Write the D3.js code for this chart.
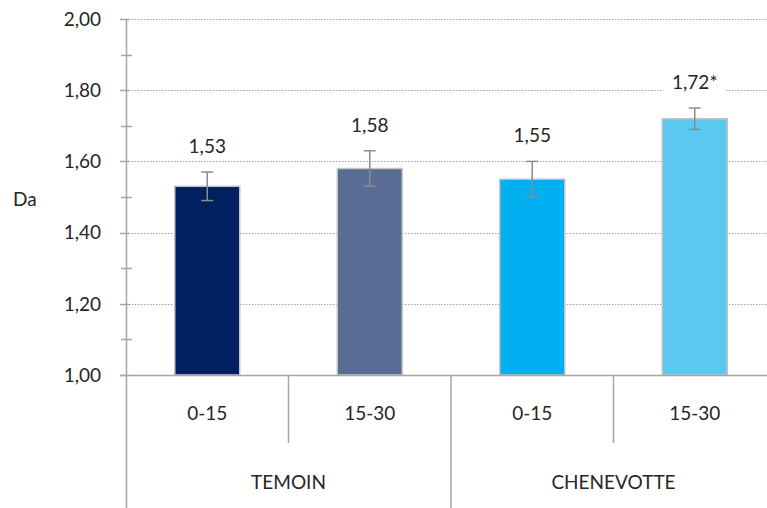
<!DOCTYPE html>
<html>
<head>
<meta charset="utf-8">
<script src="https://cdn.jsdelivr.net/npm/d3@7"></script>
<style>
  html, body { margin: 0; padding: 0; background: #fff; }
  svg text { font-family: Lato, "Open Sans", "Liberation Sans", sans-serif; fill: #262626; }
</style>
</head>
<body>
<svg id="chart" width="767" height="508"></svg>
<script>
// Soil bulk density (Da) by treatment and depth
const groups = ["TEMOIN", "CHENEVOTTE"];
const depths = ["0-15", "15-30", "0-15", "15-30"];
const groupOf = [0, 0, 1, 1];
const values = [1.53, 1.58, 1.55, 1.72];
const errors = [0.04, 0.05, 0.05, 0.03];
const valueLabels = ["1,53", "1,58", "1,55", "1,72*"];
const barColors = ["#002060", "#596c94", "#00b0f0", "#5bc8f2"];
const yTicks = [1.0, 1.2, 1.4, 1.6, 1.8, 2.0];
const yMinorTicks = [1.1, 1.3, 1.5, 1.7, 1.9];

const svg = d3.select("#chart");
const axisColor = "#a6a6a6";
const fontSize = 19;

const plotLeft = 126, plotRight = 776, plotTop = 19, plotBase = 375, plotBottom = 508;

const x = d3.scaleBand()
  .domain(d3.range(values.length))
  .range([plotLeft, plotRight])
  .paddingInner(0.6)
  .paddingOuter(0.3);
const step = x.step();

const y = d3.scaleLinear().domain([1, 2]).range([plotBase, plotTop]);
const fmt = v => d3.format(".2f")(v).replace(".", ",");

// dotted gridlines
svg.append("g").selectAll("line")
  .data(yTicks.filter(t => t > 1))
  .join("line")
  .attr("x1", plotLeft).attr("x2", 767)
  .attr("y1", d => Math.round(y(d)) + 0.5).attr("y2", d => Math.round(y(d)) + 0.5)
  .attr("stroke", "#a0a0a0")
  .attr("stroke-width", 1)
  .attr("stroke-dasharray", "1.5,1.5");

// y axis line and ticks
svg.append("line")
  .attr("x1", plotLeft + 0.5).attr("x2", plotLeft + 0.5)
  .attr("y1", plotTop).attr("y2", plotBottom)
  .attr("stroke", axisColor).attr("stroke-width", 1.5);

svg.append("g").selectAll("line")
  .data(yTicks)
  .join("line")
  .attr("x1", plotLeft - 6).attr("x2", plotLeft + 3)
  .attr("y1", d => Math.round(y(d)) + 0.5).attr("y2", d => Math.round(y(d)) + 0.5)
  .attr("stroke", axisColor).attr("stroke-width", 1.5);

svg.append("g").selectAll("line")
  .data(yMinorTicks)
  .join("line")
  .attr("x1", plotLeft - 5).attr("x2", plotLeft + 6)
  .attr("y1", d => Math.round(y(d)) + 0.5).attr("y2", d => Math.round(y(d)) + 0.5)
  .attr("stroke", axisColor).attr("stroke-width", 1.5);

svg.append("g").selectAll("text")
  .data(yTicks)
  .join("text")
  .attr("x", 101)
  .attr("y", d => y(d))
  .attr("dy", "0.36em")
  .attr("text-anchor", "end")
  .attr("font-size", fontSize)
  .text(fmt);

svg.append("text")
  .attr("x", 13).attr("y", 199).attr("dy", "0.36em")
  .attr("font-size", fontSize)
  .text("Da");

// bars
svg.append("g").selectAll("rect")
  .data(values)
  .join("rect")
  .attr("x", (d, i) => x(i))
  .attr("width", x.bandwidth())
  .attr("y", d => y(d))
  .attr("height", d => y(1) - y(d))
  .attr("fill", (d, i) => barColors[i])
  .attr("stroke", "#c4c4c4")
  .attr("stroke-width", 1.5);

// error bars
const eb = svg.append("g").attr("stroke", "#8c8c8c").attr("stroke-width", 1.5);
values.forEach((v, i) => {
  const cx = x(i) + x.bandwidth() / 2;
  eb.append("line").attr("x1", cx).attr("x2", cx)
    .attr("y1", y(v + errors[i])).attr("y2", y(v - errors[i]));
  [v + errors[i], v - errors[i]].forEach(e => {
    eb.append("line").attr("x1", cx - 6).attr("x2", cx + 6)
      .attr("y1", y(e)).attr("y2", y(e));
  });
});

// value labels with white backing
const lab = svg.append("g");
values.forEach((v, i) => {
  const cx = x(i) + x.bandwidth() / 2;
  const cy = y(v + errors[i]) - 26;
  const g = lab.append("g");
  const t = g.append("text")
    .attr("x", cx).attr("y", cy).attr("dy", "0.36em")
    .attr("text-anchor", "middle")
    .attr("font-size", fontSize)
    .text(valueLabels[i]);
  const bb = t.node().getBBox();
  g.insert("rect", "text")
    .attr("x", bb.x - 9).attr("y", bb.y - 3)
    .attr("width", bb.width + 18).attr("height", bb.height + 6)
    .attr("fill", "#fff");
});

// category axis
svg.append("line")
  .attr("x1", plotLeft - 6).attr("x2", 767)
  .attr("y1", plotBase + 0.5).attr("y2", plotBase + 0.5)
  .attr("stroke", axisColor).attr("stroke-width", 1.5);

// dividers between depths (short) and between groups (long)
d3.range(1, values.length).forEach(i => {
  const bx = plotLeft + step * i;
  const groupBoundary = groupOf[i] !== groupOf[i - 1];
  svg.append("line")
    .attr("x1", bx).attr("x2", bx)
    .attr("y1", plotBase).attr("y2", groupBoundary ? plotBottom : 443)
    .attr("stroke", axisColor).attr("stroke-width", 1.5);
});

svg.append("g").selectAll("text")
  .data(depths)
  .join("text")
  .attr("x", (d, i) => x(i) + x.bandwidth() / 2)
  .attr("y", 413).attr("dy", "0.36em")
  .attr("text-anchor", "middle")
  .attr("font-size", fontSize)
  .text(d => d);

svg.append("g").selectAll("text")
  .data(groups)
  .join("text")
  .attr("x", (d, gi) => {
    const idx = d3.range(values.length).filter(i => groupOf[i] === gi);
    return plotLeft + step * (d3.min(idx) + d3.max(idx) + 1) / 2;
  })
  .attr("y", 482).attr("dy", "0.36em")
  .attr("text-anchor", "middle")
  .attr("font-size", fontSize)
  .text(d => d);
</script>
</body>
</html>
